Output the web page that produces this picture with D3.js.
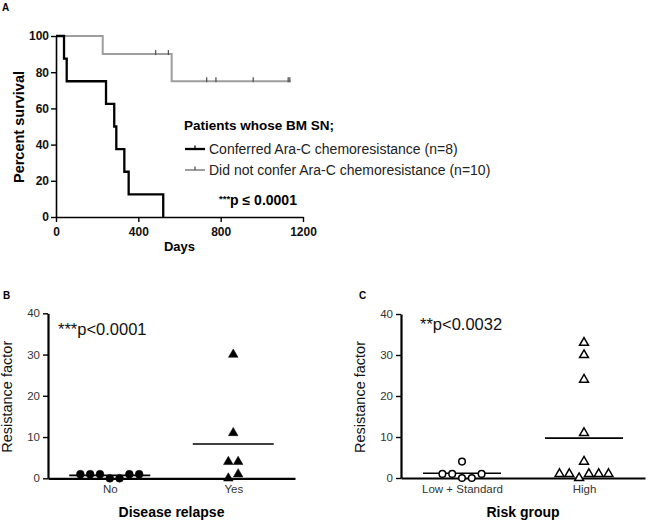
<!DOCTYPE html>
<html><head><meta charset="utf-8">
<script src="https://cdn.jsdelivr.net/npm/d3@7"></script>
<style>body{margin:0;background:#fff}text{font-family:"Liberation Sans",Arial,sans-serif}</style>
</head><body><svg id="c" width="650" height="520"></svg>
<script>
// ---- Data ----
const kmXTicks = [0, 400, 800, 1200];
const kmYTicks = [0, 20, 40, 60, 80, 100];
const conferredTimes = [0, 39, 52, 243, 283, 293, 332, 353, 521];
const conferredSurv  = [100, 87.5, 75, 62.5, 50, 37.5, 25, 12.5, 0];
const notConferredTimes = [0, 227, 562];
const notConferredSurv  = [100, 90, 75];
const notConferredEnd = 1140;
const notConferredCensor = [484, 546, 732, 777, 958, 1128, 1136];
const legendLabels = ["Conferred Ara-C chemoresistance (n=8)", "Did not confer Ara-C chemoresistance (n=10)"];

const rfTicks = [0, 10, 20, 30, 40];
const relapseCats = ["No", "Yes"];
const relapseNo  = [1, 1, 1, 0, 0, 1, 1];
const relapseYes = [0, 1, 4, 4, 11, 30];
const riskCats = ["Low + Standard", "High"];
const riskLow  = [1, 1, 0, 0, 1, 4];
const riskHigh = [1, 1, 0, 1, 1, 1, 4, 11, 24, 30, 33];

const svg = d3.select("#c");

// ---- Panel A ----
const xA = d3.scaleLinear().domain([0, 1200]).range([56, 303]);
const yA = d3.scaleLinear().domain([0, 100]).range([217, 36]);
const gA = svg.append("g");
const axXA = gA.append("g").attr("transform", "translate(0,217)")
  .call(d3.axisBottom(xA).tickValues(kmXTicks).tickFormat(d3.format("d")).tickSize(5).tickSizeOuter(0));
const axYA = gA.append("g").attr("transform", "translate(56,0)")
  .call(d3.axisLeft(yA).tickValues(kmYTicks).tickFormat(d3.format("d")).tickSize(5).tickSizeOuter(0));
[axXA, axYA].forEach(a => {
  a.select(".domain").attr("stroke", "#000").attr("stroke-width", 1.6);
  a.selectAll(".tick line").attr("stroke", "#000").attr("stroke-width", 1.4);
  a.selectAll(".tick text").attr("font-size", 12).attr("font-weight", "bold").attr("fill", "#111")
    .attr("font-family", "Liberation Sans, Arial, sans-serif");
});
axXA.selectAll(".tick text").attr("dy", "0.95em");
axYA.selectAll(".tick text").attr("dx", "1px");

function stepPath(times, surv, endT) {
  const pts = [];
  for (let i = 0; i < times.length; i++) {
    if (i > 0) pts.push([times[i], surv[i - 1]]);
    pts.push([times[i], surv[i]]);
  }
  if (endT !== undefined) pts.push([endT, surv[surv.length - 1]]);
  return d3.line().x(d => xA(d[0])).y(d => yA(d[1]))(pts);
}
gA.append("path").attr("d", stepPath(notConferredTimes, notConferredSurv, notConferredEnd))
  .attr("fill", "none").attr("stroke", "#9e9e9e").attr("stroke-width", 2);
function survAt(times, surv, t) { let s = surv[0]; times.forEach((tt, i) => { if (t >= tt) s = surv[i]; }); return s; }
gA.selectAll(".cens").data(notConferredCensor).join("line")
  .attr("x1", d => xA(d)).attr("x2", d => xA(d))
  .attr("y1", d => yA(survAt(notConferredTimes, notConferredSurv, d)) - 4)
  .attr("y2", d => yA(survAt(notConferredTimes, notConferredSurv, d)) + 1)
  .attr("stroke", "#555").attr("stroke-width", 1.3);
gA.append("path").attr("d", stepPath(conferredTimes, conferredSurv))
  .attr("fill", "none").attr("stroke", "#000").attr("stroke-width", 2.3);

gA.append("text").attr("x", 2).attr("y", 11).attr("font-size", 10).attr("font-weight", "bold").text("A");
gA.append("text").attr("transform", "translate(24,127) rotate(-90)").attr("text-anchor", "middle")
  .attr("font-size", 14.5).attr("font-weight", "bold").text("Percent survival");
gA.append("text").attr("x", xA(600)).attr("y", 251).attr("text-anchor", "middle")
  .attr("font-size", 13).attr("font-weight", "bold").text("Days");

gA.append("text").attr("x", 184).attr("y", 130).attr("font-size", 13.5).attr("font-weight", "bold").text("Patients whose BM SN;");
[["#000", 2.3], ["#9e9e9e", 2]].forEach((s, i) => {
  const yy = 149 + i * 21;
  gA.append("line").attr("x1", 185).attr("x2", 205).attr("y1", yy).attr("y2", yy).attr("stroke", s[0]).attr("stroke-width", s[1]);
  gA.append("line").attr("x1", 195).attr("x2", 195).attr("y1", yy - 3.5).attr("y2", yy).attr("stroke", i ? "#555" : "#000").attr("stroke-width", 1.3);
  gA.append("text").attr("x", 209).attr("y", yy + 5).attr("font-size", 14).attr("fill", "#222").text(legendLabels[i]);
});
const pA = gA.append("text").attr("x", 219).attr("y", 205).attr("font-weight", "bold").attr("font-size", 14);
pA.append("tspan").attr("font-size", 9.5).attr("dy", -3).text("***");
pA.append("tspan").attr("dy", 3).text("p \u2264 0.0001");

// ---- Scatter panels ----
function scatterPanel(opt) {
  const g = svg.append("g");
  const x = d3.scalePoint().domain(opt.cats).range([opt.x0, opt.x1]).padding(0.5);
  const y = d3.scaleLinear().domain([0, 40]).range([opt.y0, opt.y1]);
  const ay = g.append("g").attr("transform", `translate(${opt.x0},0)`)
    .call(d3.axisLeft(y).tickValues(rfTicks).tickSize(5).tickSizeOuter(0));
  ay.select(".domain").attr("stroke", "#000").attr("stroke-width", 2.2);
  ay.selectAll(".tick line").attr("stroke", "#000").attr("stroke-width", 1.4);
  ay.selectAll(".tick text").attr("font-size", 11.5).attr("fill", "#333").attr("font-family", "Liberation Sans, Arial, sans-serif");
  const ax = g.append("g").attr("transform", `translate(0,${opt.y0})`)
    .call(d3.axisBottom(x).tickSize(0).tickSizeOuter(0));
  ax.select(".domain").attr("stroke", "#000").attr("stroke-width", 2.2);
  ax.selectAll(".tick text").attr("font-size", 11.5).attr("fill", "#333").attr("dy", "1.05em")
    .attr("font-family", "Liberation Sans, Arial, sans-serif");

  opt.groups.forEach((vals, gi) => {
    const cx = x(opt.cats[gi]);
    // arrange into rows of near-equal values, centred
    const rows = [];
    vals.forEach((v, i) => {
      let row = rows.find(r => Math.abs(y(r.v) - y(v)) < 8);
      if (!row) { row = { v, items: [] }; rows.push(row); }
      row.items.push({ v, i });
    });
    const pts = [];
    rows.forEach(r => r.items.forEach((it, k) => {
      pts.push({ v: it.v, x: cx + (k - (r.items.length - 1) / 2) * opt.spacing });
    }));
    const m = d3.mean(vals);
    g.append("line").attr("x1", cx - opt.mw).attr("x2", cx + opt.mw).attr("y1", y(m)).attr("y2", y(m))
      .attr("stroke", "#000").attr("stroke-width", 1.6);
    const sym = opt.symbols[gi];
    g.selectAll(null).data(pts).join("path")
      .attr("transform", d => `translate(${d.x},${y(d.v)})`)
      .attr("d", d3.symbol().type(sym.type).size(sym.size)())
      .attr("fill", sym.filled ? "#000" : "#fff").attr("stroke", "#000").attr("stroke-width", sym.filled ? 0.5 : 1.5);
  });
  g.append("text").attr("x", opt.lx).attr("y", 299).attr("font-size", 10).attr("font-weight", "bold").text(opt.letter);
  g.append("text").attr("transform", `translate(${opt.x0 - 36},${(opt.y0 + opt.y1) / 2 + 1}) rotate(-90)`)
    .attr("text-anchor", "middle").attr("font-size", 14.5).attr("fill", "#111").text("Resistance factor");
  g.append("text").attr("x", (opt.x0 + opt.x1) / 2).attr("y", 517).attr("text-anchor", "middle")
    .attr("font-size", 14).attr("font-weight", "bold").text(opt.title);
  g.append("text").attr("x", opt.px).attr("y", opt.py).attr("font-size", 16.5).attr("fill", "#111").text(opt.ptext);
}

scatterPanel({
  letter: "B", lx: 3, x0: 48, x1: 295, y0: 478.3, y1: 313.3, cats: relapseCats,
  groups: [relapseNo, relapseYes], spacing: 9.8, mw: 40.5,
  symbols: [{ type: d3.symbolCircle, size: 48, filled: true }, { type: d3.symbolTriangle, size: 40, filled: true }],
  title: "Disease relapse", px: 58, py: 335, ptext: "***p<0.0001"
});
scatterPanel({
  letter: "C", lx: 359, x0: 401, x1: 645, y0: 478, y1: 314, cats: riskCats,
  groups: [riskLow, riskHigh], spacing: 9.8, mw: 39,
  symbols: [{ type: d3.symbolCircle, size: 34, filled: false }, { type: d3.symbolTriangle, size: 34, filled: false }],
  title: "Risk group", px: 420, py: 330, ptext: "**p<0.0032"
});
</script></body></html>
